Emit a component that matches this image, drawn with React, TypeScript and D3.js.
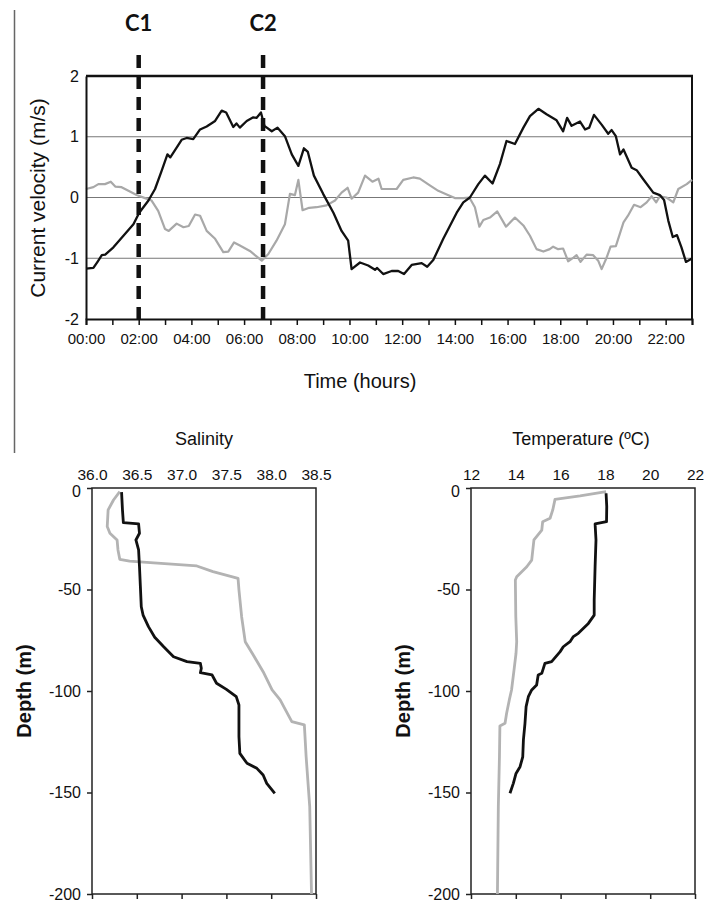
import React, { useEffect, useRef } from 'react';
import * as d3 from 'd3';

// top panel: current velocity over 23 hours, [hour, m/s]
const velBlack: [number, number][] = [
  [0, -1.17], [0.28, -1.16], [0.45, -1.05], [0.6, -0.95], [0.73, -0.94], [1.04, -0.82],
  [1.42, -0.63], [1.8, -0.44], [2.02, -0.25], [2.37, -0.05], [2.62, 0.14], [2.87, 0.44],
  [3.09, 0.71], [3.2, 0.66], [3.44, 0.82], [3.63, 0.95], [3.82, 0.98], [4.07, 0.96],
  [4.33, 1.12], [4.58, 1.17], [4.9, 1.26], [5.15, 1.43], [5.32, 1.4], [5.59, 1.16],
  [5.71, 1.22], [5.84, 1.15], [6.1, 1.26], [6.35, 1.32], [6.47, 1.31], [6.64, 1.4],
  [6.77, 1.18], [7.05, 1.09], [7.27, 1.15], [7.55, 1.01], [7.81, 0.71], [8.06, 0.52],
  [8.27, 0.81], [8.42, 0.75], [8.65, 0.36], [9.0, 0.06], [9.39, -0.25], [9.7, -0.55],
  [9.95, -0.71], [10.08, -1.18], [10.4, -1.07], [10.71, -1.12], [10.97, -1.19], [11.05, -1.16],
  [11.28, -1.26], [11.6, -1.21], [11.85, -1.21], [12.07, -1.26], [12.36, -1.11], [12.74, -1.08],
  [12.95, -1.14], [13.18, -1.03], [13.56, -0.68], [13.81, -0.47], [14.07, -0.25], [14.32, -0.08],
  [14.57, 0.0], [14.89, 0.22], [15.14, 0.36], [15.43, 0.23], [15.71, 0.55], [15.96, 0.93],
  [16.28, 0.88], [16.6, 1.15], [16.85, 1.34], [17.17, 1.46], [17.48, 1.37], [17.86, 1.27],
  [18.11, 1.09], [18.26, 1.31], [18.43, 1.18], [18.75, 1.25], [18.94, 1.12], [19.1, 1.15],
  [19.28, 1.36], [19.57, 1.2], [19.82, 1.05], [19.95, 1.11], [20.11, 1.01], [20.27, 0.71],
  [20.4, 0.79], [20.71, 0.49], [20.9, 0.45], [21.15, 0.3], [21.53, 0.08], [21.78, 0.04],
  [21.94, -0.04], [22.1, -0.38], [22.27, -0.65], [22.43, -0.62], [22.6, -0.82], [22.77, -1.06],
  [22.98, -1.01],
];

const velGray: [number, number][] = [
  [0, 0.14], [0.28, 0.17], [0.47, 0.22], [0.72, 0.22], [0.94, 0.26], [1.11, 0.18],
  [1.35, 0.17], [1.61, 0.11], [1.92, 0.04], [2.24, -0.01], [2.49, -0.05], [2.74, -0.22],
  [3.0, -0.52], [3.14, -0.55], [3.44, -0.43], [3.7, -0.49], [3.9, -0.47], [4.14, -0.28],
  [4.33, -0.3], [4.58, -0.55], [4.9, -0.68], [5.21, -0.9], [5.4, -0.89], [5.62, -0.74],
  [5.84, -0.79], [6.22, -0.88], [6.67, -1.04], [6.92, -0.93], [7.23, -0.71], [7.55, -0.44],
  [7.74, 0.06], [7.93, 0.04], [8.06, 0.29], [8.22, -0.21], [8.47, -0.17], [8.75, -0.16],
  [9.13, -0.13], [9.45, -0.05], [9.7, 0.08], [9.93, 0.16], [10.08, -0.02], [10.33, 0.08],
  [10.59, 0.36], [10.87, 0.26], [11.1, 0.31], [11.22, 0.14], [11.47, 0.14], [11.79, 0.14],
  [12.04, 0.29], [12.42, 0.33], [12.67, 0.31], [13.05, 0.2], [13.37, 0.11], [13.69, 0.05],
  [14.0, -0.01], [14.32, -0.01], [14.55, 0.0], [14.76, -0.16], [14.93, -0.48], [15.08, -0.37],
  [15.33, -0.33], [15.61, -0.23], [15.94, -0.48], [16.28, -0.33], [16.6, -0.46], [16.85, -0.63],
  [17.1, -0.85], [17.36, -0.89], [17.6, -0.85], [17.73, -0.81], [17.92, -0.85], [18.11, -0.84],
  [18.3, -1.05], [18.5, -0.99], [18.62, -0.95], [18.77, -1.06], [19.0, -0.94], [19.25, -0.95],
  [19.44, -1.04], [19.57, -1.18], [19.75, -1.0], [19.91, -0.81], [20.11, -0.8], [20.4, -0.41],
  [20.57, -0.3], [20.8, -0.12], [21.05, -0.16], [21.28, -0.08], [21.47, 0.02], [21.64, -0.08],
  [21.78, 0.02], [22.03, 0.0], [22.29, -0.08], [22.48, 0.14], [22.8, 0.22], [23.0, 0.29],
];

const hourTicks = d3.range(0, 24);
const hourLabels = ['00:00', '02:00', '04:00', '06:00', '08:00', '10:00', '12:00', '14:00', '16:00', '18:00', '20:00', '22:00'];
const velTicks = [-2, -1, 0, 1, 2];
const markers = [{ name: 'C1', hour: 2 }, { name: 'C2', hour: 6.72 }];

// bottom panels: [value, depth m]
const salBlack: [number, number][] = [
  [36.33, -2], [36.34, -10.8], [36.35, -17.1], [36.52, -17.7], [36.53, -22.3], [36.49, -25.6],
  [36.52, -30.5], [36.53, -38.8], [36.54, -48.6], [36.55, -58.5], [36.57, -62.6], [36.63, -68.3],
  [36.7, -73.5], [36.8, -78.2], [36.91, -83.1], [37.06, -85.5], [37.21, -86.4], [37.22, -88.8],
  [37.21, -91], [37.34, -92.1], [37.39, -96.2], [37.5, -99.2], [37.61, -102.8], [37.64, -106.9],
  [37.64, -115.9], [37.64, -122.5], [37.65, -130.7], [37.73, -135.6], [37.84, -138.1], [37.91, -141.4],
  [37.95, -145.5], [38.04, -150.4],
];
const salGray: [number, number][] = [
  [36.31, -1.8], [36.24, -5.9], [36.18, -10.8], [36.17, -19], [36.2, -22.3], [36.28, -25.6],
  [36.29, -30.5], [36.31, -35.1], [36.42, -36], [36.65, -36.8], [37.17, -38.4], [37.35, -41.2],
  [37.63, -44.5], [37.64, -50.2], [37.67, -63.4], [37.71, -75.7], [37.8, -82.3], [37.91, -90.5],
  [38.01, -99.5], [38.1, -104.4], [38.17, -110.2], [38.23, -115.1], [38.37, -116.7], [38.39, -132.4],
  [38.43, -157], [38.45, -200],
];
const tempBlack: [number, number][] = [
  [18.03, -2.6], [18.06, -9.2], [18.05, -16.6], [17.54, -17.7], [17.58, -25.6], [17.54, -38.8],
  [17.5, -55.2], [17.5, -62.6], [17.24, -66.7], [16.79, -71.6], [16.57, -73.2], [16.42, -75.7],
  [16.12, -78.2], [15.98, -80.6], [15.6, -85.5], [15.3, -86.4], [15.16, -91.3], [15.0, -92.1],
  [14.93, -97], [14.71, -99.5], [14.56, -102.8], [14.46, -107.7], [14.41, -115.9], [14.34, -124.1],
  [14.31, -132.4], [14.19, -137.3], [14.01, -140.6], [13.89, -145.5], [13.74, -150.4],
];
const tempGray: [number, number][] = [
  [18.03, -1.8], [16.87, -3.9], [15.75, -5.6], [15.65, -10.8], [15.53, -14.9], [15.2, -16.6],
  [15.16, -20.7], [14.81, -25.6], [14.76, -30.5], [14.71, -35.5], [14.49, -38.8], [14.04, -43.7],
  [13.98, -45.3], [14.0, -63.4], [14.04, -75.7], [14.01, -81.4], [13.92, -89.7], [13.81, -99.5],
  [13.71, -104.4], [13.59, -111], [13.52, -115.9], [13.29, -117.2], [13.27, -132.4], [13.22, -157],
  [13.18, -200],
];
const salTicks = [36.0, 36.5, 37.0, 37.5, 38.0, 38.5];
const tempTicks = [12, 14, 16, 18, 20, 22];
const depthTicks = [0, -50, -100, -150, -200];

const FONT = '"Liberation Sans", Arial, sans-serif';
const INK = '#111';
const GREY = '#a8a8a8';

const App = () => {
  const svgRef = useRef<SVGSVGElement>(null);

  useEffect(() => {
    const svg = d3.select(svgRef.current);
    svg.selectAll('*').remove();
    svg.append('rect').attr('width', 706).attr('height', 902).attr('fill', '#fff');

    // left border fragment
    svg.append('line').attr('x1', 14.5).attr('x2', 14.5).attr('y1', 10).attr('y2', 453)
      .attr('stroke', '#666').attr('stroke-width', 1.5);

    // ---------- top chart ----------
    const x = d3.scaleLinear().domain([0, 23]).range([86, 692]);
    const y = d3.scaleLinear().domain([-2, 2]).range([319, 76]);
    const top = svg.append('g');

    [-1, 0, 1].forEach(v => {
      top.append('line').attr('x1', x(0)).attr('x2', x(23)).attr('y1', y(v)).attr('y2', y(v))
        .attr('stroke', '#777').attr('stroke-width', 1);
    });
    top.append('line').attr('x1', x(0)).attr('x2', x(23) + 1).attr('y1', y(2)).attr('y2', y(2))
      .attr('stroke', INK).attr('stroke-width', 2.5);
    top.append('line').attr('x1', x(23)).attr('x2', x(23)).attr('y1', y(2)).attr('y2', y(-2))
      .attr('stroke', INK).attr('stroke-width', 2);

    const line = d3.line<[number, number]>().x(d => x(d[0])).y(d => y(d[1]));
    top.append('path').attr('d', line(velGray)).attr('fill', 'none')
      .attr('stroke', GREY).attr('stroke-width', 2.2).attr('stroke-linejoin', 'round');
    top.append('path').attr('d', line(velBlack)).attr('fill', 'none')
      .attr('stroke', INK).attr('stroke-width', 2.3).attr('stroke-linejoin', 'round');

    const xAxis = top.append('g').attr('transform', `translate(0,${y(-2)})`)
      .call(d3.axisBottom(x).tickValues(hourTicks).tickSize(6).tickPadding(8)
        .tickFormat((d, i) => (i % 2 === 0 ? hourLabels[i / 2] : '')));
    xAxis.select('.domain').attr('stroke', INK).attr('stroke-width', 2);
    xAxis.selectAll('.tick line').attr('stroke', INK).attr('stroke-width', 1.5);
    xAxis.selectAll('text').attr('font-family', FONT).attr('font-size', 15).attr('fill', INK);

    const yAxis = top.append('g').attr('transform', `translate(${x(0)},0)`)
      .call(d3.axisLeft(y).tickValues(velTicks).tickSize(0).tickPadding(7).tickFormat(d => String(d)));
    yAxis.select('.domain').attr('stroke', INK).attr('stroke-width', 2);
    yAxis.selectAll('text').attr('font-family', FONT).attr('font-size', 16).attr('fill', INK);

    top.append('text').attr('transform', `translate(37,198) rotate(-90)`)
      .attr('text-anchor', 'middle').attr('dominant-baseline', 'central')
      .attr('font-family', FONT).attr('font-size', 21).attr('fill', INK)
      .text('Current velocity (m/s)');
    top.append('text').attr('x', 360).attr('y', 388).attr('text-anchor', 'middle')
      .attr('font-family', FONT).attr('font-size', 20).attr('fill', INK)
      .text('Time (hours)');

    markers.forEach(m => {
      top.append('line').attr('x1', x(m.hour)).attr('x2', x(m.hour)).attr('y1', 55).attr('y2', y(-2))
        .attr('stroke', INK).attr('stroke-width', 4.5).attr('stroke-dasharray', '13,8');
      top.append('text').attr('x', x(m.hour)).attr('y', 31).attr('text-anchor', 'middle')
        .attr('font-family', 'Lato, "Open Sans", sans-serif').attr('font-weight', 700)
        .attr('font-size', 22).attr('fill', INK).text(m.name);
    });

    // ---------- depth profiles ----------
    const profile = (opts: {
      domain: [number, number]; range: [number, number]; ticks: number[]; fmt: (d: number) => string;
      title: string; titleX: number; labelX: number; black: [number, number][]; gray: [number, number][];
    }) => {
      const px = d3.scaleLinear().domain(opts.domain).range(opts.range);
      const py = d3.scaleLinear().domain([0, -200]).range([488, 894]);
      const g = svg.append('g');

      g.append('text').attr('x', opts.titleX).attr('y', 445).attr('text-anchor', 'middle')
        .attr('font-family', FONT).attr('font-size', 18).attr('fill', INK).text(opts.title);

      const topAx = g.append('g').attr('transform', `translate(0,${py(0)})`)
        .call(d3.axisTop(px).tickValues(opts.ticks).tickSize(0).tickPadding(8).tickFormat(d => opts.fmt(+d)));
      topAx.select('.domain').remove();
      topAx.selectAll('text').attr('font-family', FONT).attr('font-size', 15.5).attr('fill', INK);

      const botAx = g.append('g').attr('transform', `translate(0,${py(-200)})`)
        .call(d3.axisBottom(px).tickValues(opts.ticks).tickSize(5).tickFormat(() => ''));
      botAx.select('.domain').remove();
      botAx.selectAll('.tick line').attr('stroke', '#222').attr('stroke-width', 1.5);

      const leftAx = g.append('g').attr('transform', `translate(${opts.range[0]},0)`)
        .call(d3.axisLeft(py).tickValues(depthTicks).tickSize(5).tickPadding(6).tickFormat(d => String(d)));
      leftAx.select('.domain').remove();
      leftAx.selectAll('.tick line').attr('stroke', '#222').attr('stroke-width', 1.5);
      leftAx.selectAll('text').attr('font-family', FONT).attr('font-size', 16).attr('fill', INK);
      // the zero label sits just under the first top tick label, as in the source
      leftAx.selectAll('.tick').filter(d => d === 0).select('text').attr('dy', '0.5em');

      g.append('rect').attr('x', opts.range[0]).attr('y', py(0))
        .attr('width', opts.range[1] - opts.range[0]).attr('height', py(-200) - py(0))
        .attr('fill', 'none').attr('stroke', '#222').attr('stroke-width', 1.5);

      const pl = d3.line<[number, number]>().x(d => px(d[0])).y(d => py(d[1]));
      g.append('path').attr('d', pl(opts.gray)).attr('fill', 'none')
        .attr('stroke', '#b3b3b3').attr('stroke-width', 2.8).attr('stroke-linejoin', 'round');
      g.append('path').attr('d', pl(opts.black)).attr('fill', 'none')
        .attr('stroke', INK).attr('stroke-width', 2.8).attr('stroke-linejoin', 'round');

      g.append('text').attr('transform', `translate(${opts.labelX},${py(-100)}) rotate(-90)`)
        .attr('text-anchor', 'middle').attr('dominant-baseline', 'central')
        .attr('font-family', FONT).attr('font-weight', 700).attr('font-size', 20).attr('fill', INK)
        .text('Depth (m)');
    };

    profile({
      domain: [36, 38.5], range: [92, 316], ticks: salTicks, fmt: d => d.toFixed(1),
      title: 'Salinity', titleX: 204, labelX: 24, black: salBlack, gray: salGray,
    });
    profile({
      domain: [12, 22], range: [471, 695], ticks: tempTicks, fmt: d => String(d),
      title: 'Temperature (ºC)', titleX: 581, labelX: 403, black: tempBlack, gray: tempGray,
    });
  }, []);

  return (
    <svg ref={svgRef} width={706} height={902}
      style={{ position: 'absolute', left: 0, top: 0, display: 'block' }} />
  );
};

export default App;
